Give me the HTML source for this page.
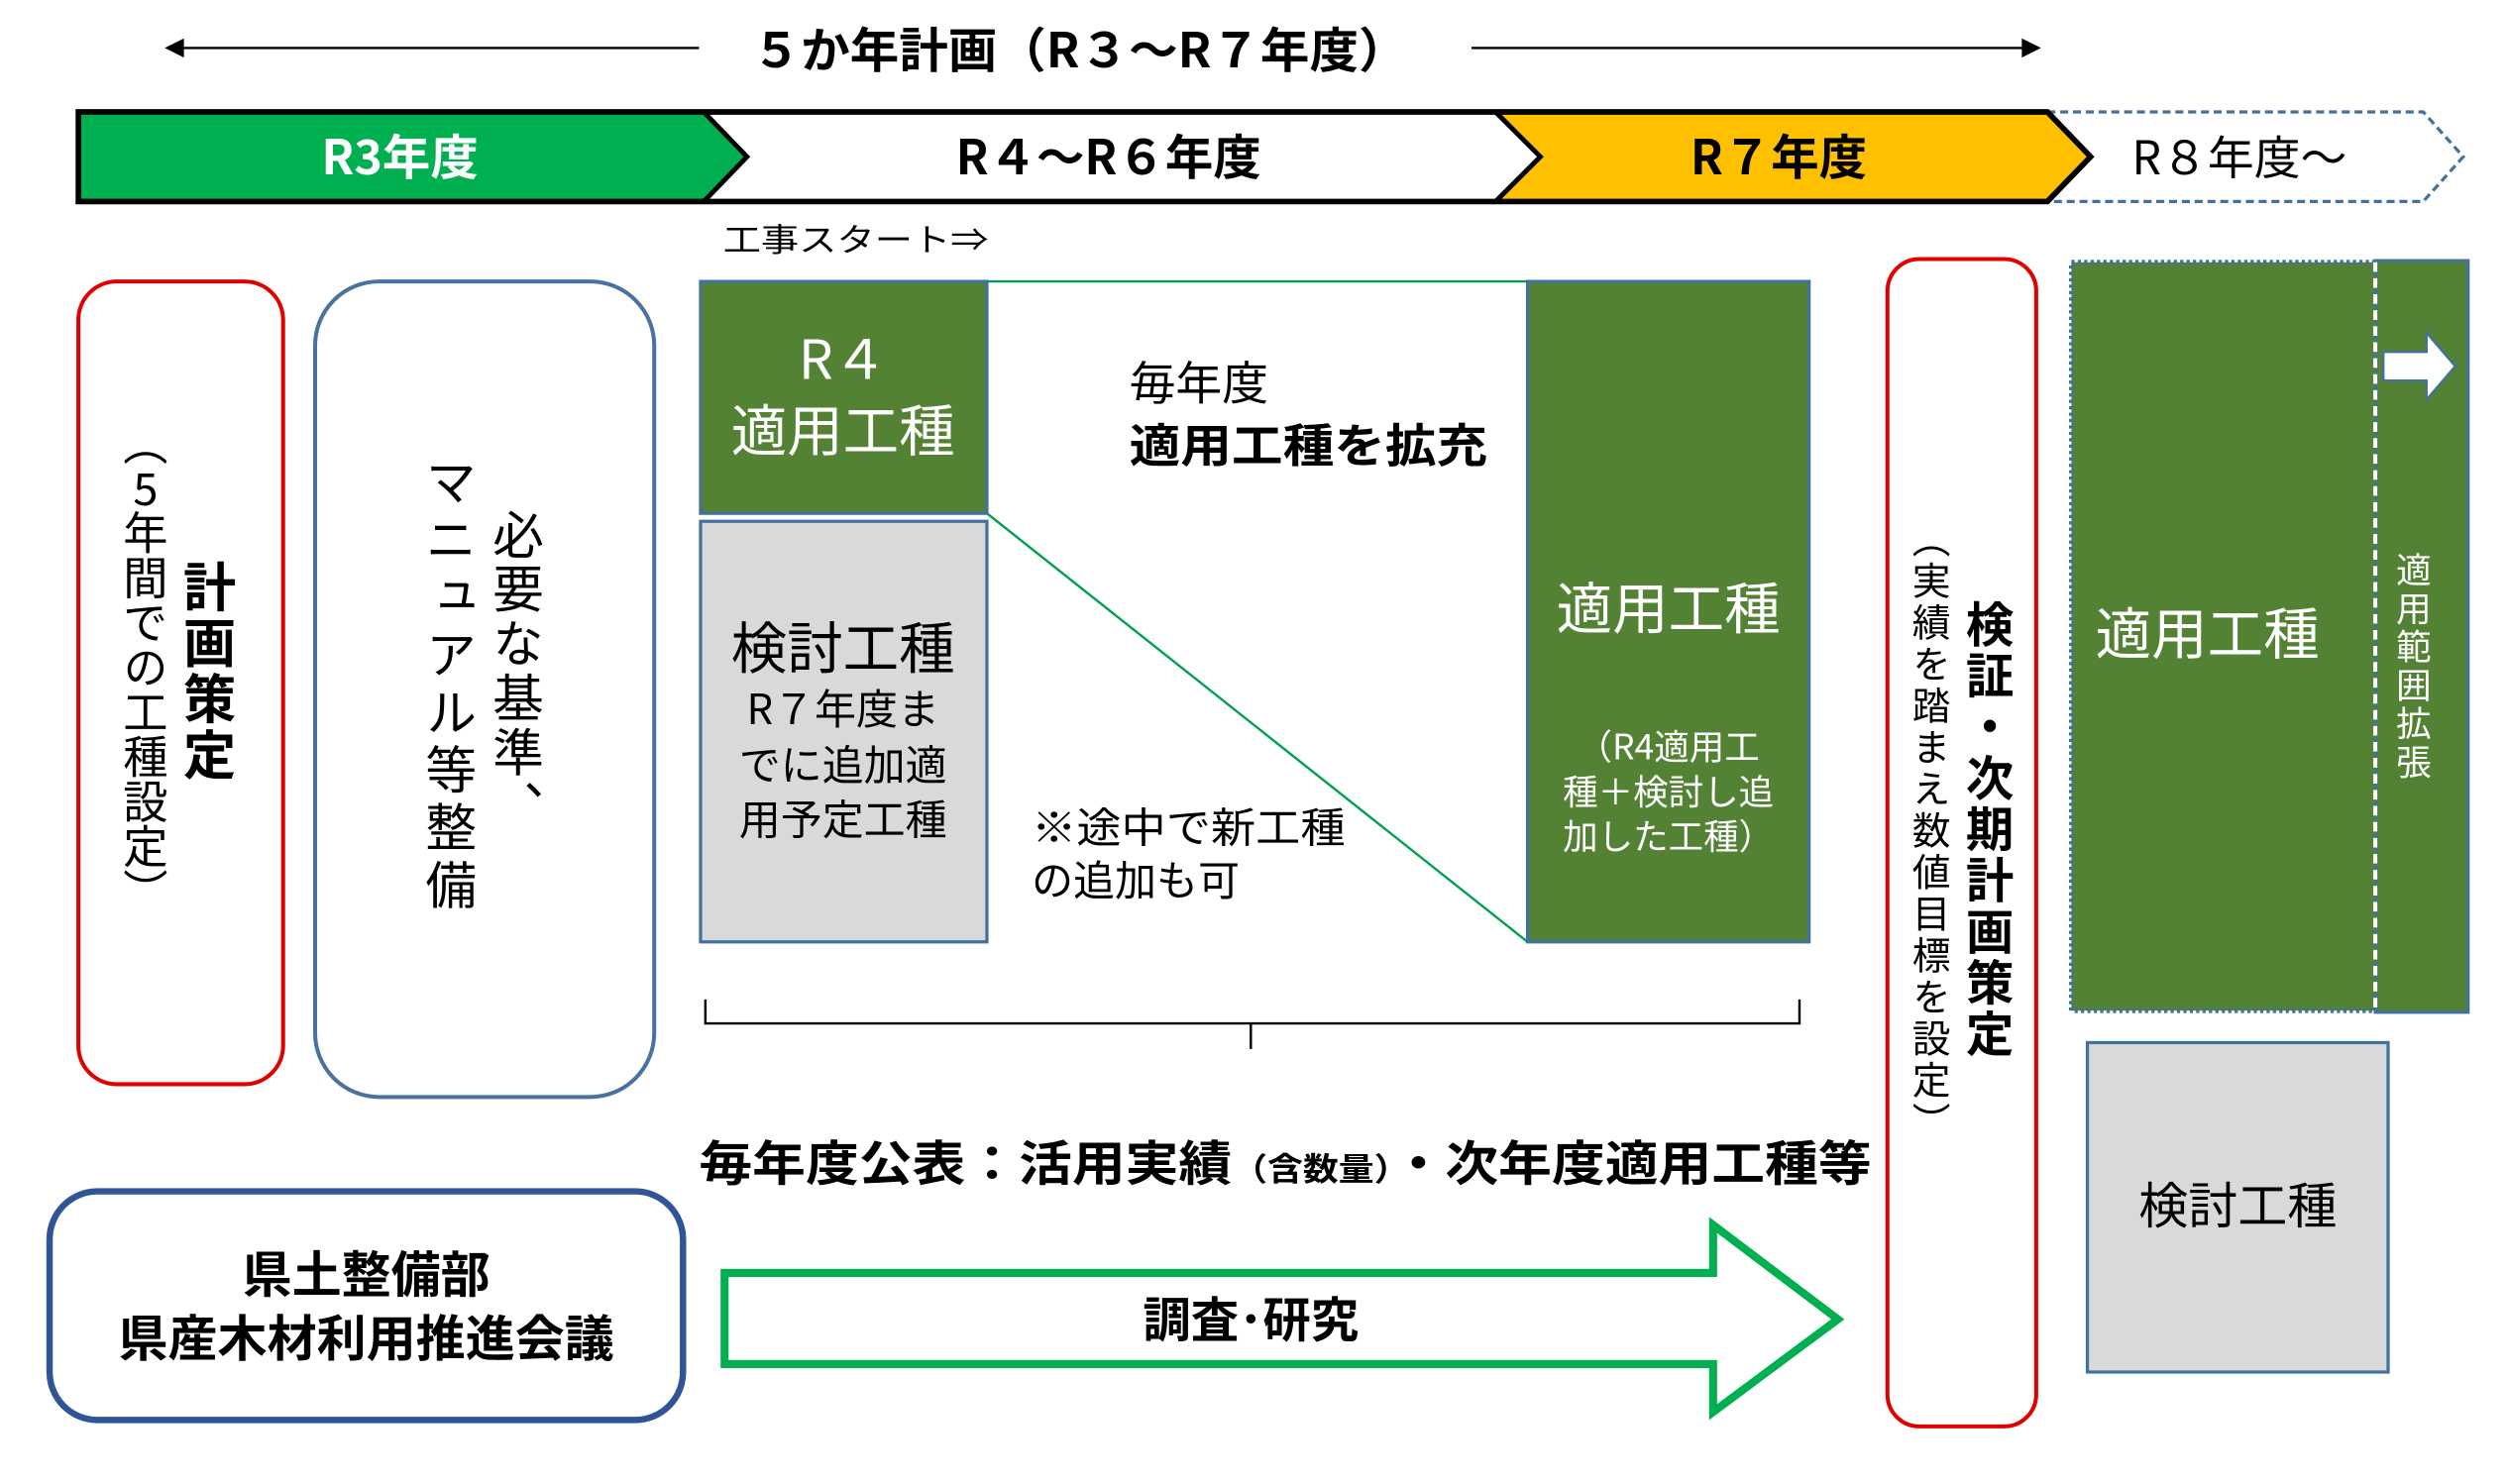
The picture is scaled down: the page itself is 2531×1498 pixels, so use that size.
<!DOCTYPE html>
<html><head><meta charset="utf-8">
<style>
html,body{margin:0;padding:0;background:#fff;overflow:hidden}
#wrap{position:relative;width:1568px;height:928px;transform:scale(1.6142,1.6142);transform-origin:0 0;font-family:"Liberation Sans","Noto Sans CJK JP",sans-serif}
svg{position:absolute;left:0;top:0}
.v{position:absolute;writing-mode:vertical-rl;white-space:nowrap;line-height:1;font-family:"Noto Sans CJK JP",sans-serif}
.tc{text-combine-upright:all}
</style></head><body>
<div id="wrap">
<svg width="1568" height="928" viewBox="0 0 1568 928" font-family="'Liberation Sans','Noto Sans CJK JP',sans-serif">
<line x1="112" y1="30" x2="437" y2="30" stroke="#000" stroke-width="1.5"/>
<polygon points="103,30 115,24 115,36" fill="#000"/>
<line x1="920" y1="30" x2="1265" y2="30" stroke="#000" stroke-width="1.5"/>
<polygon points="1276,30 1264,24 1264,36" fill="#000"/>
<text x="470" y="42" font-size="30" font-weight="bold" textLength="410" lengthAdjust="spacingAndGlyphs" font-family="'Noto Sans CJK JP',sans-serif">５か年計画（R３～R７年度）</text>
<polygon points="1280,70 1515,70 1540,98 1515,126 1280,126 1307,98" fill="#fff" stroke="#41719c" stroke-width="2" stroke-dasharray="5,3"/>
<polygon points="49,70 440,70 467,98 440,126 49,126" fill="#00b050"/>
<polygon points="440,70 935,70 963,98 935,126 440,126 467,98" fill="#fff"/>
<polygon points="935,70 1280,70 1307,98 1280,126 935,126 963,98" fill="#ffc000"/>
<polyline points="440,70 467,98 440,126" fill="none" stroke="#000" stroke-width="3"/>
<polyline points="935,70 963,98 935,126" fill="none" stroke="#000" stroke-width="3"/>
<polygon points="49,70 1280,70 1307,98 1280,126 49,126" fill="none" stroke="#000" stroke-width="3.5"/>
<text x="250" y="109" font-size="30" font-weight="bold" fill="#fff" text-anchor="middle" font-family="'Noto Sans CJK JP',sans-serif">R3年度</text>
<text x="693" y="109" font-size="30" font-weight="bold" text-anchor="middle" font-family="'Noto Sans CJK JP',sans-serif">R４～R６年度</text>
<text x="1112" y="109" font-size="30" font-weight="bold" text-anchor="middle" font-family="'Noto Sans CJK JP',sans-serif">R７年度</text>
<text x="1400" y="109" font-size="29" text-anchor="middle" font-family="'Noto Sans CJK JP',sans-serif">R８年度～</text>
<text x="452" y="157" font-size="20" textLength="166" lengthAdjust="spacingAndGlyphs" font-family="'Noto Sans CJK JP',sans-serif">工事スタート⇒</text>
<rect x="49" y="176" width="128" height="502" rx="24" fill="#fff" stroke="#e00000" stroke-width="2.5"/>
<rect x="197" y="176" width="212" height="510" rx="40" fill="#fff" stroke="#4a72a0" stroke-width="2.5"/>
<line x1="617" y1="176" x2="955" y2="176" stroke="#00a050" stroke-width="1.5"/>
<line x1="617" y1="321" x2="955" y2="589" stroke="#00a050" stroke-width="1.5"/>
<rect x="438" y="176" width="179" height="145" fill="#548235" stroke="#41719c" stroke-width="2"/>
<rect x="438" y="326" width="179" height="263" fill="#d9d9d9" stroke="#41719c" stroke-width="2"/>
<rect x="955" y="176" width="176" height="413" fill="#548235" stroke="#41719c" stroke-width="2"/>
<g font-family="'Noto Sans CJK JP',sans-serif">
<text x="527" y="237" font-size="34" fill="#fff" text-anchor="middle">R４</text>
<text x="527" y="282" font-size="35" fill="#fff" text-anchor="middle">適用工種</text>
<text x="527" y="418" font-size="35" text-anchor="middle">検討工種</text>
<text x="527" y="453" font-size="26" text-anchor="middle">R７年度ま</text>
<text x="527" y="488" font-size="26" text-anchor="middle">でに追加適</text>
<text x="527" y="522" font-size="26" text-anchor="middle">用予定工種</text>
<text x="706" y="250" font-size="29">毎年度</text>
<text x="706" y="289" font-size="29" font-weight="bold" textLength="224" lengthAdjust="spacingAndGlyphs">適用工種を拡充</text>
<text x="645" y="527" font-size="26" textLength="196" lengthAdjust="spacingAndGlyphs">※途中で新工種</text>
<text x="645" y="560" font-size="26">の追加も可</text>
<text x="1043" y="393" font-size="35" fill="#fff" text-anchor="middle">適用工種</text>
<text x="1043" y="475" font-size="22" fill="#fff" text-anchor="middle">（R4適用工</text>
<text x="1043" y="503" font-size="22" fill="#fff" text-anchor="middle">種＋検討し追</text>
<text x="1043" y="531" font-size="22" fill="#fff" text-anchor="middle">加した工種）</text>
</g>
<path d="M441,625 L441,640 L1125,640 L1125,625 M782,640 L782,656" fill="none" stroke="#000" stroke-width="1.5"/>
<text x="437" y="738" font-size="30" font-weight="bold" textLength="733" lengthAdjust="spacingAndGlyphs" font-family="'Noto Sans CJK JP',sans-serif">毎年度公表：活用実績<tspan font-size="20">（含数量）</tspan>・次年度適用工種等</text>
<rect x="31" y="745" width="396" height="143" rx="30" fill="#fff" stroke="#2f5597" stroke-width="4"/>
<text x="229" y="808" font-size="31" font-weight="bold" text-anchor="middle" font-family="'Noto Sans CJK JP',sans-serif">県土整備部</text>
<text x="229" y="848" font-size="31" font-weight="bold" text-anchor="middle" font-family="'Noto Sans CJK JP',sans-serif">県産木材利用推進会議</text>
<polygon points="453,796 1071,796 1071,766 1149,825 1071,883 1071,853 453,853" fill="#fff" stroke="#00b050" stroke-width="5"/>
<text x="782" y="836" font-size="30" font-weight="bold" text-anchor="middle" font-family="'Noto Sans CJK JP',sans-serif">調査･研究</text>
<rect x="1180" y="162" width="93" height="730" rx="20" fill="#fff" stroke="#e00000" stroke-width="2.5"/>
<rect x="1485" y="163" width="58" height="470" fill="#548235" stroke="#41719c" stroke-width="2"/>
<rect x="1295" y="164" width="190" height="468" fill="#548235" stroke="#41719c" stroke-width="3" stroke-dasharray="2,2"/>
<line x1="1485" y1="164" x2="1485" y2="632" stroke="#fff" stroke-width="2.5" stroke-dasharray="6,4"/>
<polygon points="1490,220 1517,220 1517,208 1535,229 1517,250 1517,238 1490,238" fill="#fff" stroke="#41719c" stroke-width="1.5"/>
<text x="1380" y="409" font-size="35" fill="#fff" text-anchor="middle" font-family="'Noto Sans CJK JP',sans-serif">適用工種</text>
<rect x="1305" y="652" width="188" height="206" fill="#d9d9d9" stroke="#41719c" stroke-width="2"/>
<text x="1399" y="765" font-size="31" text-anchor="middle" font-family="'Noto Sans CJK JP',sans-serif">検討工種</text>
</svg>
<div class="v" style="left:114px;top:350px;font-size:33px;font-weight:bold;letter-spacing:2px">計画策定</div>
<div class="v" style="left:77px;top:263px;font-size:28px;letter-spacing:0px">（<span class="tc">5</span>年間での工種設定）</div>
<div class="v" style="left:308px;top:318px;font-size:32px;letter-spacing:2px">必要な基準、</div>
<div class="v" style="left:266px;top:285px;font-size:32px;letter-spacing:4px">マニュアル等整備</div>
<div class="v" style="left:1229px;top:375px;font-size:30px;font-weight:bold;letter-spacing:2px">検証・次期計画策定</div>
<div class="v" style="left:1195px;top:325px;font-size:24px;letter-spacing:2px">（実績を踏まえ数値目標を設定）</div>
<div class="v" style="left:1498px;top:345px;font-size:22px;color:#fff;letter-spacing:2px">適用範囲拡張</div>
</div>
</body></html>
